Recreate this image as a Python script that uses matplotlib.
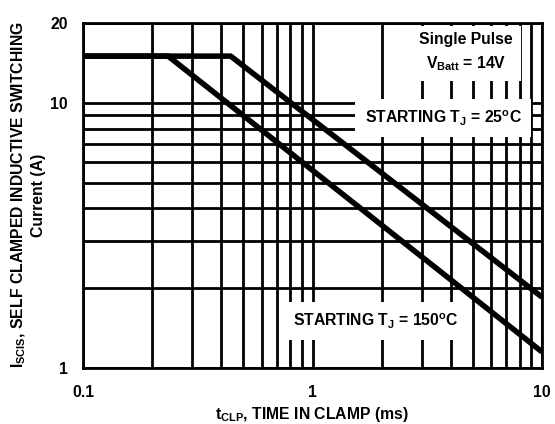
import matplotlib
matplotlib.use("Agg")
import matplotlib.pyplot as plt
from matplotlib.ticker import FixedLocator, NullFormatter

plt.rcParams['font.family'] = ['Liberation Sans', 'DejaVu Sans']
plt.rcParams['font.weight'] = 'bold'
plt.rcParams['mathtext.fontset'] = 'custom'
plt.rcParams['mathtext.rm'] = 'Liberation Sans:bold'
plt.rcParams['mathtext.it'] = 'Liberation Sans:bold'
plt.rcParams['mathtext.bf'] = 'Liberation Sans:bold'

# Data
t_25 = [0.1, 0.44, 10]
i_25 = [15, 15, 1.85]
t_150 = [0.1, 0.235, 10]
i_150 = [15, 15, 1.15]

x_major = [0.1, 1, 10]
x_major_labels = ['0.1', '1', '10']
x_minor = [0.2, 0.3, 0.4, 0.5, 0.6, 0.7, 0.8, 0.9, 2, 3, 4, 5, 6, 7, 8, 9]
y_major = [1, 10, 20]
y_major_labels = ['1', '10', '20']
y_minor = [2, 3, 4, 5, 6, 7, 8, 9]

FS = 11.3

fig = plt.figure(figsize=(5.55, 4.24), dpi=100)
ax = fig.add_axes([83/555, 1-368/424, 459/555, 345/424])
ax.set_xscale('log')
ax.set_yscale('log')
ax.set_xlim(0.1, 10)
ax.set_ylim(1, 20)

ax.xaxis.set_major_locator(FixedLocator(x_major))
ax.xaxis.set_minor_locator(FixedLocator(x_minor))
ax.yaxis.set_major_locator(FixedLocator(y_major))
ax.yaxis.set_minor_locator(FixedLocator(y_minor))
ax.set_xticklabels(x_major_labels)
ax.set_yticklabels(y_major_labels)
ax.xaxis.set_minor_formatter(NullFormatter())
ax.yaxis.set_minor_formatter(NullFormatter())
ax.tick_params(which='both', length=0, labelsize=FS)
ax.tick_params(axis='x', pad=12)
ax.tick_params(axis='y', pad=11)

ax.grid(True, which='both', color='black', linewidth=2.0)
for s in ax.spines.values():
    s.set_linewidth(2.0)
    s.set_zorder(5)

ax.plot(t_25, i_25, color='black', linewidth=4.0, solid_capstyle='butt', zorder=4)
ax.plot(t_150, i_150, color='black', linewidth=4.0, solid_capstyle='butt', zorder=4)

box = dict(boxstyle='square,pad=0.6', facecolor='white', edgecolor='none')
ax.text(0.835, 0.915, 'Single Pulse\n$V_{Batt}$ = 14V', transform=ax.transAxes,
        ha='center', va='center', fontsize=FS, fontweight='bold',
        linespacing=1.5, bbox=dict(boxstyle='square,pad=0.5', facecolor='white', edgecolor='none'), zorder=3)
ax.text(0.785, 0.725, 'STARTING T$_J$ = 25$^o$C', transform=ax.transAxes,
        ha='center', va='center', fontsize=FS, fontweight='bold', bbox=box, zorder=3)
ax.text(0.639, 0.135, 'STARTING T$_J$ = 150$^o$C', transform=ax.transAxes,
        ha='center', va='center', fontsize=FS, fontweight='bold', bbox=box, zorder=3)

fig.text(19/555, 1-195/424, 'I$_{SCIS}$, SELF CLAMPED INDUCTIVE SWITCHING',
         rotation=90, ha='center', va='center', fontsize=FS, fontweight='bold')
fig.text(38/555, 1-195/424, 'Current (A)',
         rotation=90, ha='center', va='center', fontsize=FS, fontweight='bold')
fig.text(312/555, 1-405/424, 't$_{CLP}$, TIME IN CLAMP (ms)',
         ha='center', va='top', fontsize=FS, fontweight='bold')

fig.savefig('out.png', dpi=100)
